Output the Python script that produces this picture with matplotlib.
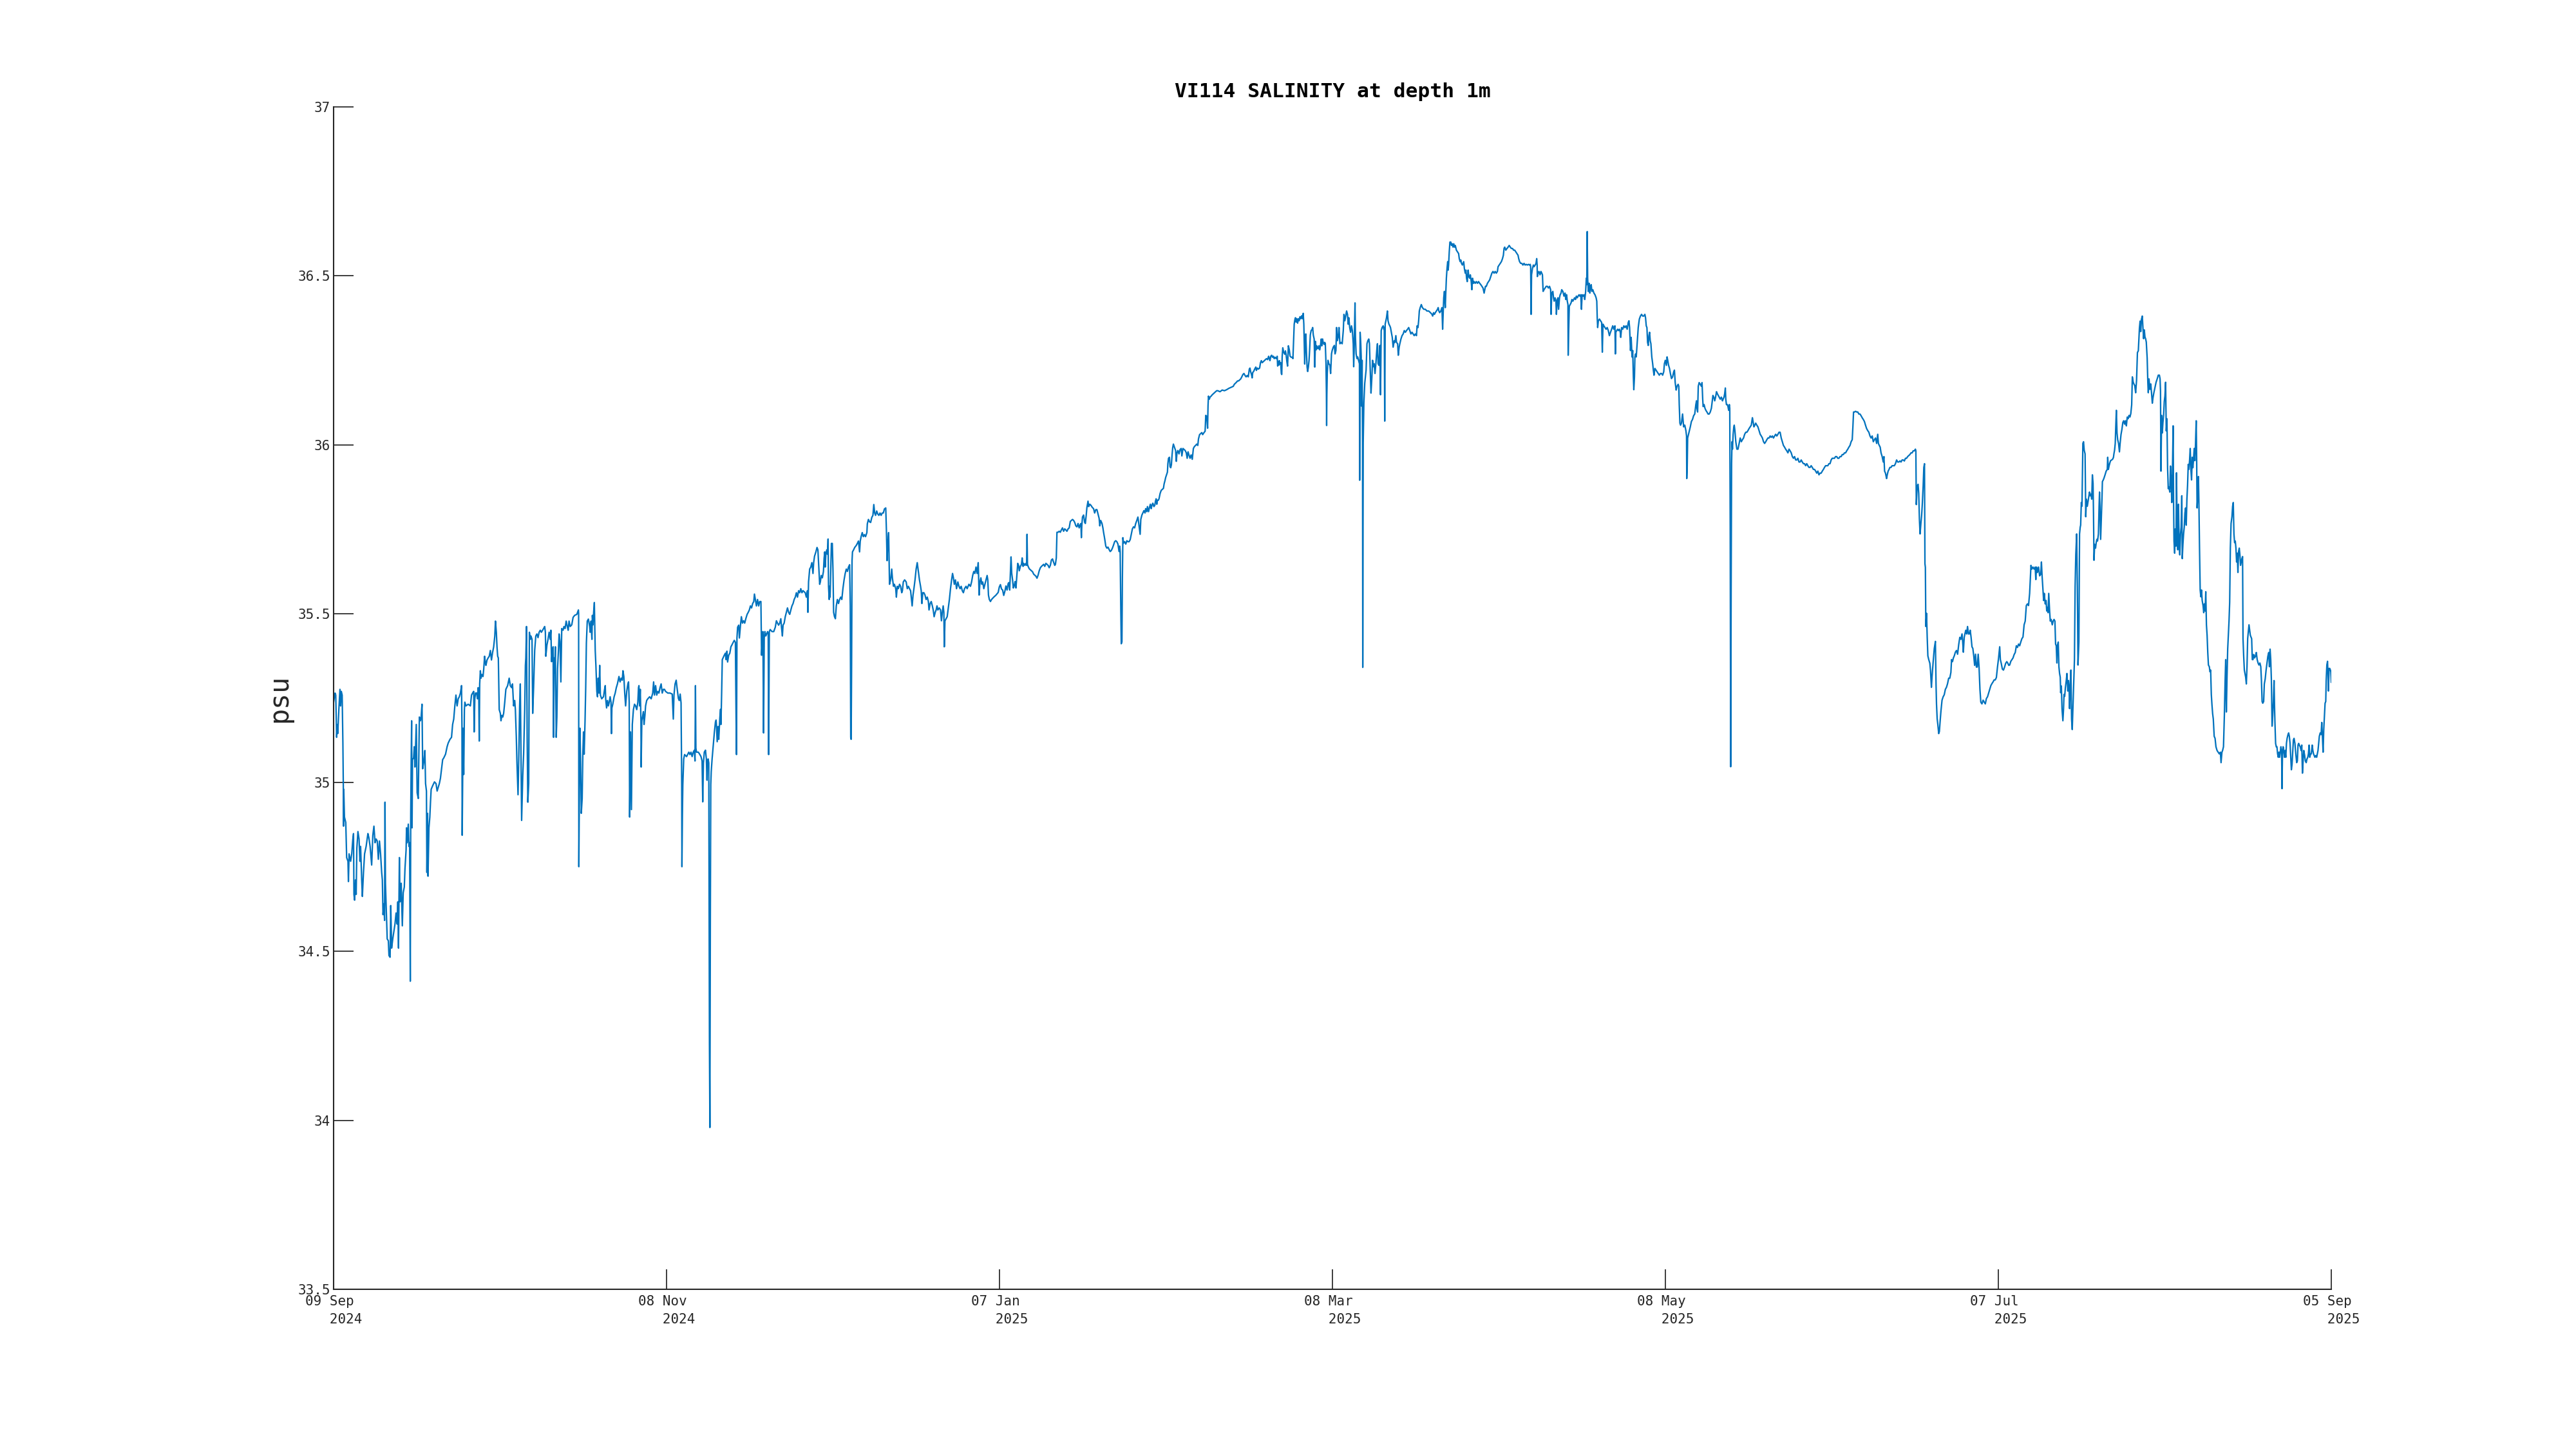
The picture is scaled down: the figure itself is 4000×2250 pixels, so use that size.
import numpy as np
import matplotlib
matplotlib.use('Agg')
import matplotlib.pyplot as plt

# salinity readings, x = days since 09 Sep 2024 00:00, y = psu
days_a = [0.0, 0.27, 0.39, 0.55, 0.67, 0.75, 0.95, 1.15, 1.27, 1.39,
          1.55, 1.68, 1.76, 1.80, 1.84, 1.96, 2.20, 2.36, 2.60, 2.68,
          2.80, 3.08, 3.28, 3.48, 3.60, 3.68, 3.80, 3.96, 4.08, 4.20,
          4.40, 4.60, 4.76, 4.88, 5.08, 5.20, 5.40, 5.60, 5.88, 6.20,
          6.36, 6.60, 6.88, 7.09, 7.29, 7.49, 7.69, 7.89, 8.09, 8.29,
          8.49, 8.69, 8.81, 8.93, 9.09, 9.21, 9.29, 9.37, 9.49, 9.69,
          9.89, 10.01, 10.21, 10.33, 10.49, 10.69, 10.89, 11.09, 11.29, 11.49,
          11.61, 11.73, 11.89, 12.01, 12.22, 12.42, 12.58, 12.78, 12.90, 13.10,
          13.18, 13.30, 13.50, 13.62, 13.74, 13.86, 13.94, 14.02, 14.10, 14.18,
          14.26, 14.46, 14.58, 14.70, 14.94, 15.10, 15.30, 15.50, 15.70, 15.82,
          15.98, 16.10, 16.30, 16.50, 16.62, 16.78, 16.86, 16.98, 17.06, 17.23,
          17.39, 17.51, 17.63, 17.91, 18.23, 18.51, 18.71, 18.91, 19.11, 19.31,
          19.51, 19.71, 19.91, 20.23, 20.51, 20.71, 21.03, 21.31, 21.51, 21.71,
          21.91, 22.11, 22.32, 22.52, 22.72, 22.92, 23.12, 23.20, 23.24, 23.40,
          23.52, 23.64, 23.72, 23.92, 24.32, 24.72, 24.92, 25.12, 25.32, 25.40,
          25.52, 25.64, 25.84, 26.00, 26.12, 26.24, 26.32, 26.40, 26.52, 26.64,
          26.80, 27.00, 27.13, 27.29, 27.41, 27.53, 27.73, 27.93, 28.13, 28.33,
          28.53, 28.73, 28.93, 29.13, 29.25, 29.41, 29.53, 29.65, 29.77, 29.93,
          30.13, 30.25, 30.41, 30.57, 30.73, 30.93, 31.13, 31.45, 31.73, 31.93,
          32.17, 32.33, 32.53, 32.73, 32.85, 33.01, 33.13, 33.33, 33.46, 33.62,
          33.74, 33.86, 33.98, 34.18, 34.34, 34.54, 34.66, 34.74, 34.86, 34.98,
          35.10, 35.26, 35.38, 35.54, 35.66, 35.86, 35.98, 36.14, 36.34, 36.54,
          36.74, 36.94, 37.14, 37.35, 37.55, 37.95, 38.15, 38.27, 38.35, 38.55,
          38.75, 38.95, 39.15, 39.27, 39.39, 39.55, 39.67, 39.75, 39.87, 39.95,
          40.07, 40.23, 40.35, 40.47, 40.63, 40.75, 40.91, 41.07, 41.23, 41.47,
          41.63, 41.83, 42.03, 42.23, 42.39, 42.55, 42.76, 43.04, 43.28, 43.56,
          43.96, 44.24, 44.28, 44.32, 44.44, 44.52, 44.64, 44.76, 44.92, 45.04,
          45.16, 45.28, 45.44, 45.56, 45.68, 45.84, 46.04, 46.28, 46.36, 46.52,
          46.68, 46.76, 46.88, 47.00, 47.12, 47.20, 47.28, 47.40, 47.57, 47.69,
          47.81, 47.97, 48.09, 48.21, 48.45, 48.77, 48.97, 49.09, 49.17, 49.33,
          49.49, 49.65, 49.81, 49.97, 50.13, 50.21, 50.29, 50.45, 50.69, 50.89,
          51.09, 51.29, 51.57, 51.77, 51.97, 52.17, 52.29, 52.45, 52.61, 52.77,
          52.97, 53.18, 53.30, 53.42, 53.50, 53.66, 53.82, 53.98, 54.18, 54.38,
          54.58, 54.78, 54.98, 55.10, 55.18, 55.30, 55.42, 55.54, 55.58, 55.70,
          55.82, 55.98, 56.10, 56.26, 56.38, 56.58, 56.78, 57.11, 57.39, 57.67,
          57.83, 57.99, 58.19, 58.39, 58.59, 58.79, 58.99, 59.19, 59.39, 59.59,
          59.79, 59.99, 60.39, 60.79, 61.19, 61.39, 61.51, 61.71, 61.91]
psu_a = [35.238, 35.265, 35.259, 35.134, 35.172, 35.145, 35.216, 35.276, 35.227, 35.270,
         35.259, 35.117, 34.986, 34.871, 34.980, 34.898, 34.882, 34.778, 34.767, 34.707,
         34.789, 34.767, 34.789, 34.833, 34.849, 34.669, 34.652, 34.712, 34.669, 34.805,
         34.855, 34.833, 34.767, 34.811, 34.712, 34.663, 34.734, 34.789, 34.811, 34.849,
         34.838, 34.811, 34.756, 34.844, 34.871, 34.822, 34.833, 34.827, 34.773, 34.827,
         34.789, 34.734, 34.712, 34.609, 34.641, 34.592, 34.942, 34.702, 34.641, 34.537,
         34.532, 34.488, 34.483, 34.636, 34.510, 34.537, 34.559, 34.581, 34.614, 34.581,
         34.647, 34.510, 34.778, 34.647, 34.702, 34.576, 34.674, 34.691, 34.745, 34.800,
         34.866, 34.822, 34.877, 34.811, 34.822, 34.412, 34.909, 35.062, 35.183, 34.866,
         35.068, 35.073, 35.106, 35.046, 35.172, 34.970, 34.953, 35.194, 35.183, 35.194,
         35.232, 35.041, 35.062, 35.095, 34.997, 34.975, 34.734, 34.909, 34.723, 34.866,
         34.898, 34.942, 34.980, 34.991, 35.002, 34.997, 34.975, 34.986, 34.997, 35.013,
         35.041, 35.068, 35.073, 35.084, 35.106, 35.117, 35.128, 35.134, 35.172, 35.188,
         35.227, 35.259, 35.227, 35.248, 35.254, 35.265, 35.287, 35.161, 34.844, 35.161,
         35.024, 35.216, 35.238, 35.227, 35.232, 35.227, 35.259, 35.265, 35.270, 35.150,
         35.248, 35.265, 35.265, 35.248, 35.281, 35.259, 35.123, 35.292, 35.331, 35.309,
         35.320, 35.314, 35.336, 35.374, 35.358, 35.347, 35.363, 35.369, 35.374, 35.391,
         35.363, 35.385, 35.402, 35.434, 35.478, 35.445, 35.402, 35.374, 35.369, 35.216,
         35.205, 35.183, 35.199, 35.194, 35.205, 35.238, 35.276, 35.287, 35.309, 35.287,
         35.281, 35.292, 35.227, 35.243, 35.216, 35.139, 35.062, 34.964, 35.068, 35.227,
         35.292, 35.084, 34.888, 35.019, 35.084, 35.216, 35.347, 35.369, 35.462, 35.128,
         34.942, 34.997, 35.445, 35.424, 35.434, 35.424, 35.205, 35.281, 35.391, 35.434,
         35.440, 35.429, 35.445, 35.451, 35.445, 35.456, 35.462, 35.445, 35.374, 35.407,
         35.424, 35.445, 35.424, 35.451, 35.358, 35.391, 35.402, 35.134, 35.369, 35.325,
         35.402, 35.134, 35.194, 35.336, 35.391, 35.440, 35.418, 35.298, 35.456, 35.451,
         35.462, 35.456, 35.478, 35.462, 35.451, 35.478, 35.462, 35.467, 35.489, 35.495,
         35.498, 35.511, 35.500, 34.751, 35.041, 35.161, 35.062, 34.909, 34.953, 35.084,
         35.150, 35.084, 35.183, 35.281, 35.413, 35.478, 35.484, 35.462, 35.445, 35.478,
         35.424, 35.495, 35.467, 35.506, 35.533, 35.456, 35.391, 35.347, 35.270, 35.254,
         35.309, 35.265, 35.347, 35.259, 35.248, 35.254, 35.276, 35.287, 35.248, 35.221,
         35.243, 35.227, 35.238, 35.254, 35.238, 35.145, 35.221, 35.232, 35.254, 35.265,
         35.281, 35.292, 35.314, 35.298, 35.309, 35.303, 35.331, 35.314, 35.265, 35.227,
         35.270, 35.292, 35.298, 35.238, 34.898, 35.150, 34.920, 35.172, 35.216, 35.232,
         35.227, 35.216, 35.238, 35.281, 35.287, 35.227, 35.276, 35.183, 35.046, 35.183,
         35.194, 35.210, 35.172, 35.199, 35.227, 35.243, 35.248, 35.254, 35.248, 35.265,
         35.298, 35.259, 35.287, 35.259, 35.270, 35.265, 35.281, 35.292, 35.265, 35.276,
         35.276, 35.270, 35.265, 35.265, 35.262, 35.188, 35.259, 35.292, 35.303]

days_b = [62.06, 62.31, 62.47, 62.63, 62.79, 62.91, 62.95, 63.03, 63.11, 63.27,
          63.43, 63.79, 64.19, 64.39, 64.59, 64.79, 64.99, 65.19, 65.31, 65.39,
          65.47, 65.59, 65.91, 66.19, 66.39, 66.59, 66.71, 66.83, 66.99, 67.20,
          67.36, 67.48, 67.56, 67.68, 67.80, 67.92, 68.00, 68.08, 68.16, 68.24,
          68.40, 68.60, 68.80, 69.00, 69.12, 69.20, 69.32, 69.48, 69.60, 69.80,
          69.92, 70.00, 70.12, 70.24, 70.40, 70.60, 70.80, 70.92, 71.08, 71.20,
          71.40, 71.60, 71.80, 72.00, 72.21, 72.41, 72.61, 72.73, 72.81, 72.89,
          73.01, 73.21, 73.33, 73.53, 73.69, 73.89, 74.09, 74.29, 74.49, 74.73,
          74.93, 75.13, 75.33, 75.53, 75.73, 75.93, 76.05, 76.21, 76.41, 76.61,
          76.81, 77.01, 77.22, 77.34, 77.46, 77.58, 77.70, 77.82, 77.94, 78.10,
          78.26, 78.42, 78.54, 78.62, 78.74, 78.90, 79.22, 79.54, 79.82, 80.02,
          80.22, 80.42, 80.62, 80.82, 80.94, 81.10, 81.22, 81.42, 81.62, 81.82,
          82.02, 82.22, 82.43, 82.63, 82.83, 83.03, 83.23, 83.43, 83.63, 83.83,
          84.03, 84.23, 84.43, 84.63, 84.83, 85.23, 85.43, 85.63, 85.71, 85.83,
          86.03, 86.23, 86.43, 86.63, 86.75, 86.91, 87.16, 87.36, 87.52, 87.64,
          87.76, 87.84, 87.96, 88.12, 88.32, 88.52, 88.64, 88.76, 88.84, 88.96,
          89.12, 89.24, 89.36, 89.44, 89.56, 89.64, 89.72, 89.84, 89.96, 90.12,
          90.24, 90.36, 90.52, 90.68, 90.84, 91.04, 91.24, 91.44, 91.64, 91.84,
          92.04, 92.25, 92.45, 92.65, 92.85, 93.05, 93.25, 93.37, 93.45, 93.53,
          93.61, 93.69, 93.77, 93.97, 94.17, 94.45, 94.65, 94.85, 95.05, 95.17,
          95.33, 95.53, 95.73, 95.93, 96.13, 96.37, 96.45, 96.65, 96.85, 97.05,
          97.26, 97.46, 97.62, 97.78, 97.94, 98.14, 98.34, 98.54, 98.74, 98.94,
          99.14, 99.34, 99.54, 99.78, 99.90, 100.02, 100.14, 100.30, 100.38, 100.46,
          100.66, 100.86, 100.98, 101.18, 101.34, 101.58, 101.70, 101.86, 102.06, 102.27,
          102.47, 102.67, 102.79, 102.95, 103.19, 103.47, 103.67, 103.87, 104.07, 104.27,
          104.39, 104.55, 104.71, 104.87, 105.07, 105.27, 105.47, 105.67, 105.87, 106.07,
          106.19, 106.31, 106.47, 106.67, 106.87, 107.07, 107.28, 107.48, 107.60, 107.80,
          108.00, 108.20, 108.36, 108.52, 108.72, 108.88, 109.04, 109.20, 109.44, 109.68,
          109.84, 110.00, 110.16, 110.28, 110.36, 110.48, 110.68, 110.88, 111.08, 111.28,
          111.48, 111.68, 111.85, 112.01, 112.17, 112.37, 112.57, 112.81, 113.01, 113.21,
          113.41, 113.61, 113.81, 114.01, 114.29, 114.49, 114.81, 115.09, 115.29, 115.49,
          115.69, 115.89, 116.09, 116.29, 116.49, 116.65, 116.81, 116.97, 117.14, 117.30,
          117.50, 117.70, 117.90, 118.10, 118.22, 118.34, 118.50, 118.70, 118.90, 119.30,
          119.70]
psu_b = [35.281, 35.249, 35.243, 35.262, 35.236, 34.994, 34.751, 34.904, 34.994, 35.070,
         35.083, 35.077, 35.090, 35.083, 35.090, 35.077, 35.090, 35.096, 35.064, 35.287,
         35.102, 35.090, 35.090, 35.083, 35.077, 35.064, 34.943, 35.058, 35.090, 35.096,
         35.070, 35.007, 35.064, 35.070, 35.058, 34.228, 33.979, 34.586, 34.994, 35.032,
         35.070, 35.109, 35.147, 35.179, 35.185, 35.166, 35.121, 35.166, 35.128, 35.192,
         35.217, 35.172, 35.262, 35.364, 35.370, 35.377, 35.383, 35.364, 35.389, 35.357,
         35.377, 35.383, 35.402, 35.408, 35.415, 35.421, 35.415, 35.198, 35.083, 35.428,
         35.460, 35.466, 35.428, 35.466, 35.491, 35.472, 35.479, 35.472, 35.485, 35.498,
         35.504, 35.511, 35.523, 35.517, 35.530, 35.536, 35.558, 35.542, 35.523, 35.542,
         35.523, 35.536, 35.536, 35.377, 35.415, 35.447, 35.147, 35.428, 35.447, 35.434,
         35.440, 35.447, 35.440, 35.083, 35.447, 35.453, 35.447, 35.447, 35.460, 35.479,
         35.472, 35.466, 35.472, 35.485, 35.460, 35.434, 35.466, 35.472, 35.491, 35.504,
         35.517, 35.504, 35.498, 35.511, 35.523, 35.530, 35.542, 35.549, 35.562, 35.549,
         35.568, 35.562, 35.574, 35.562, 35.568, 35.562, 35.549, 35.568, 35.504, 35.594,
         35.632, 35.638, 35.651, 35.619, 35.651, 35.670, 35.683, 35.696, 35.689, 35.651,
         35.613, 35.587, 35.594, 35.613, 35.606, 35.625, 35.664, 35.683, 35.638, 35.676,
         35.689, 35.676, 35.721, 35.581, 35.542, 35.581, 35.549, 35.632, 35.708, 35.708,
         35.632, 35.504, 35.491, 35.485, 35.523, 35.542, 35.530, 35.542, 35.549, 35.542,
         35.574, 35.600, 35.619, 35.632, 35.625, 35.638, 35.645, 35.523, 35.134, 35.128,
         35.351, 35.657, 35.683, 35.689, 35.696, 35.702, 35.708, 35.715, 35.683, 35.715,
         35.728, 35.740, 35.728, 35.734, 35.728, 35.740, 35.766, 35.779, 35.772, 35.770,
         35.785, 35.791, 35.823, 35.798, 35.791, 35.804, 35.795, 35.791, 35.798, 35.791,
         35.798, 35.798, 35.810, 35.813, 35.747, 35.657, 35.708, 35.740, 35.664, 35.587,
         35.600, 35.632, 35.606, 35.581, 35.587, 35.574, 35.549, 35.581, 35.574, 35.587,
         35.581, 35.562, 35.568, 35.594, 35.600, 35.594, 35.574, 35.581, 35.574, 35.568,
         35.549, 35.523, 35.555, 35.574, 35.600, 35.632, 35.651, 35.625, 35.600, 35.581,
         35.568, 35.530, 35.562, 35.562, 35.555, 35.542, 35.549, 35.536, 35.511, 35.530,
         35.536, 35.523, 35.511, 35.491, 35.504, 35.511, 35.523, 35.511, 35.517, 35.511,
         35.479, 35.504, 35.523, 35.504, 35.402, 35.479, 35.485, 35.491, 35.517, 35.542,
         35.574, 35.600, 35.619, 35.606, 35.587, 35.600, 35.574, 35.594, 35.581, 35.574,
         35.581, 35.568, 35.562, 35.574, 35.581, 35.574, 35.587, 35.581, 35.594, 35.613,
         35.625, 35.619, 35.638, 35.619, 35.651, 35.555, 35.594, 35.606, 35.587, 35.594,
         35.574, 35.587, 35.600, 35.613, 35.600, 35.555, 35.542, 35.536, 35.542, 35.549,
         35.555]

days_c = [120.10, 120.30, 120.50, 120.70, 120.90, 121.10, 121.30, 121.50, 121.70, 121.90,
          122.02, 122.18, 122.30, 122.42, 122.54, 122.71, 122.83, 122.99, 123.15, 123.31,
          123.51, 123.63, 123.79, 123.91, 124.11, 124.31, 124.43, 124.59, 124.71, 124.91,
          125.11, 125.23, 125.31, 125.39, 125.51, 125.71, 125.91, 126.11, 126.31, 126.51,
          126.71, 126.91, 127.11, 127.31, 127.51, 127.72, 127.92, 128.12, 128.32, 128.52,
          128.72, 128.92, 129.12, 129.32, 129.52, 129.72, 129.92, 130.12, 130.32, 130.44,
          130.60, 130.72, 130.92, 131.12, 131.32, 131.52, 131.72, 131.92, 132.12, 132.32,
          132.52, 132.73, 132.93, 133.13, 133.33, 133.53, 133.73, 133.93, 134.13, 134.33,
          134.53, 134.73, 134.93, 135.05, 135.13, 135.21, 135.33, 135.53, 135.73, 135.85,
          136.01, 136.13, 136.33, 136.45, 136.65, 136.85, 137.01, 137.13, 137.33, 137.53,
          137.74, 137.94, 138.14, 138.34, 138.46, 138.62, 138.86, 139.02, 139.14, 139.34,
          139.54, 139.74, 139.94, 140.14, 140.34, 140.54, 140.74, 140.94, 141.14, 141.34,
          141.54, 141.74, 141.94, 142.06, 142.14, 142.26, 142.34, 142.46, 142.54, 142.63,
          142.75, 142.95, 143.15, 143.35, 143.55, 143.75, 143.95, 144.15, 144.35, 144.55,
          144.75, 144.95, 145.15, 145.35, 145.55, 145.75, 145.87, 146.07, 146.23, 146.43,
          146.63, 146.75, 146.95, 147.07, 147.27, 147.43, 147.60, 147.76, 147.88, 148.04,
          148.24, 148.40, 148.52, 148.64, 148.76, 148.88, 149.04, 149.16, 149.36, 149.56,
          149.76, 149.96, 150.08, 150.24, 150.36, 150.56, 150.68, 150.76, 150.88, 151.04,
          151.16, 151.28, 151.40, 151.52, 151.64, 151.76, 151.96, 152.16, 152.28, 152.41,
          152.57, 152.77, 152.97, 153.17, 153.29, 153.49, 153.69, 153.89, 154.09, 154.25,
          154.41, 154.57, 154.77, 154.97, 155.17, 155.37, 155.57, 155.77, 155.97, 156.17,
          156.29, 156.49, 156.69, 156.89, 157.05, 157.29, 157.49, 157.61, 157.78, 157.94,
          158.02, 158.10, 158.26, 158.38, 158.58, 158.78, 158.98, 159.18, 159.38, 159.58,
          159.78, 160.18, 160.58, 160.98, 161.38, 161.78, 162.18, 162.58]
psu_c = [35.563, 35.579, 35.586, 35.573, 35.570, 35.554, 35.566, 35.582, 35.570, 35.589,
         35.592, 35.570, 35.620, 35.668, 35.620, 35.598, 35.576, 35.582, 35.595, 35.576,
         35.620, 35.649, 35.643, 35.627, 35.640, 35.646, 35.665, 35.640, 35.649, 35.643,
         35.649, 35.643, 35.735, 35.646, 35.640, 35.633, 35.630, 35.627, 35.624, 35.617,
         35.614, 35.611, 35.605, 35.614, 35.627, 35.636, 35.640, 35.643, 35.646, 35.640,
         35.649, 35.646, 35.643, 35.636, 35.643, 35.659, 35.662, 35.652, 35.643, 35.646,
         35.665, 35.741, 35.741, 35.744, 35.741, 35.748, 35.754, 35.744, 35.751, 35.748,
         35.744, 35.751, 35.754, 35.773, 35.776, 35.779, 35.776, 35.770, 35.760, 35.757,
         35.767, 35.754, 35.764, 35.767, 35.725, 35.760, 35.786, 35.792, 35.770, 35.767,
         35.792, 35.814, 35.833, 35.817, 35.824, 35.821, 35.817, 35.814, 35.811, 35.798,
         35.808, 35.808, 35.795, 35.782, 35.760, 35.776, 35.767, 35.754, 35.741, 35.722,
         35.700, 35.694, 35.697, 35.690, 35.684, 35.687, 35.694, 35.703, 35.713, 35.716,
         35.713, 35.706, 35.684, 35.700, 35.684, 35.506, 35.411, 35.417, 35.601, 35.725,
         35.709, 35.713, 35.706, 35.716, 35.713, 35.713, 35.719, 35.735, 35.751, 35.757,
         35.754, 35.767, 35.776, 35.786, 35.760, 35.735, 35.779, 35.792, 35.798, 35.805,
         35.798, 35.811, 35.802, 35.817, 35.802, 35.814, 35.824, 35.811, 35.821, 35.827,
         35.817, 35.821, 35.833, 35.840, 35.824, 35.836, 35.836, 35.840, 35.856, 35.865,
         35.868, 35.871, 35.884, 35.894, 35.903, 35.913, 35.919, 35.944, 35.960, 35.963,
         35.935, 35.932, 35.941, 35.970, 35.992, 36.002, 35.992, 35.983, 35.951, 35.976,
         35.983, 35.973, 35.986, 35.989, 35.967, 35.989, 35.986, 35.983, 35.976, 35.960,
         35.979, 35.970, 35.960, 35.970, 35.957, 35.989, 35.995, 35.998, 36.002, 35.998,
         36.017, 36.030, 36.033, 36.036, 36.030, 36.036, 36.040, 36.087, 36.084, 36.049,
         36.116, 36.144, 36.135, 36.141, 36.144, 36.148, 36.151, 36.154, 36.157, 36.160,
         36.160, 36.157, 36.162, 36.160, 36.163, 36.167, 36.170, 36.173]

days_d = [162.77, 162.96, 163.15, 163.35, 163.54, 163.74, 163.93, 164.12, 164.32, 164.51,
          164.71, 164.90, 165.09, 165.29, 165.48, 165.60, 165.71, 165.87, 165.99, 166.10,
          166.26, 166.45, 166.65, 166.76, 166.92, 167.11, 167.34, 167.50, 167.65, 167.81,
          168.00, 168.20, 168.39, 168.59, 168.78, 168.97, 169.09, 169.21, 169.36, 169.52,
          169.67, 169.83, 169.98, 170.14, 170.33, 170.52, 170.60, 170.72, 170.84, 170.91,
          171.03, 171.15, 171.26, 171.34, 171.42, 171.53, 171.69, 171.88, 172.00, 172.12,
          172.27, 172.39, 172.54, 172.70, 172.85, 173.05, 173.24, 173.36, 173.47, 173.59,
          173.71, 173.82, 173.94, 174.05, 174.21, 174.33, 174.48, 174.64, 174.79, 174.95,
          175.10, 175.22, 175.33, 175.41, 175.49, 175.57, 175.68, 175.80, 175.92, 176.03,
          176.15, 176.27, 176.38, 176.50, 176.65, 176.81, 176.93, 177.04, 177.20, 177.31,
          177.43, 177.55, 177.66, 177.78, 177.90, 178.05, 178.21, 178.36, 178.48, 178.59,
          178.71, 178.83, 178.98, 179.10, 179.21, 179.33, 179.41, 179.45, 179.49, 179.56]
psu_d = [36.179, 36.182, 36.185, 36.189, 36.189, 36.192, 36.195, 36.201, 36.208, 36.211,
         36.205, 36.201, 36.205, 36.201, 36.224, 36.227, 36.217, 36.208, 36.198, 36.214,
         36.217, 36.224, 36.230, 36.220, 36.227, 36.224, 36.227, 36.243, 36.249, 36.243,
         36.246, 36.249, 36.252, 36.255, 36.252, 36.262, 36.255, 36.249, 36.262, 36.265,
         36.259, 36.262, 36.255, 36.259, 36.255, 36.262, 36.233, 36.246, 36.236, 36.249,
         36.239, 36.243, 36.211, 36.208, 36.262, 36.287, 36.274, 36.268, 36.278, 36.268,
         36.246, 36.233, 36.293, 36.281, 36.262, 36.259, 36.259, 36.255, 36.306, 36.357,
         36.370, 36.376, 36.363, 36.373, 36.360, 36.373, 36.367, 36.379, 36.373, 36.382,
         36.373, 36.389, 36.357, 36.293, 36.239, 36.300, 36.328, 36.274, 36.230, 36.217,
         36.230, 36.249, 36.281, 36.325, 36.338, 36.341, 36.347, 36.325, 36.313, 36.230,
         36.306, 36.281, 36.293, 36.287, 36.284, 36.293, 36.281, 36.297, 36.313, 36.293,
         36.313, 36.303, 36.297, 36.303, 36.300, 36.243, 36.154, 36.057, 36.147, 36.211]

days_e = [179.69, 179.85, 180.05, 180.17, 180.33, 180.45, 180.65, 180.85, 180.97, 181.13,
          181.25, 181.37, 181.53, 181.69, 181.85, 182.06, 182.26, 182.46, 182.58, 182.74,
          182.90, 183.06, 183.22, 183.34, 183.46, 183.62, 183.78, 183.94, 184.10, 184.26,
          184.34, 184.42, 184.50, 184.58, 184.66, 184.78, 184.94, 185.06, 185.22, 185.38,
          185.42, 185.50, 185.62, 185.70, 185.78, 185.86, 185.94, 185.98, 186.06, 186.18,
          186.34, 186.46, 186.58, 186.74, 186.90, 187.07, 187.19, 187.31, 187.47, 187.63,
          187.75, 187.87, 188.03, 188.19, 188.35, 188.51, 188.63, 188.75, 188.91, 189.07,
          189.19, 189.31, 189.47, 189.67, 189.79, 189.87, 189.95, 190.03, 190.15, 190.27,
          190.43, 190.55, 190.71, 190.87, 190.99, 191.15, 191.31, 191.47, 191.67, 191.79,
          191.96, 192.08, 192.28, 192.40, 192.56, 192.68, 192.88, 193.08, 193.28, 193.48,
          193.68, 193.88, 194.08, 194.28, 194.48, 194.68, 194.88, 195.08, 195.28, 195.48,
          195.68, 195.80, 195.96, 196.08, 196.20, 196.36, 196.56, 196.76, 197.01, 197.29,
          197.57, 197.89, 198.21, 198.49, 198.61, 198.77, 198.93, 199.09, 199.29, 199.49,
          199.61, 199.73, 199.89, 200.09, 200.29, 200.41, 200.53, 200.61, 200.73, 200.89,
          200.97, 201.09, 201.21, 201.33, 201.41, 201.49, 201.61, 201.73, 201.89, 202.01,
          202.14, 202.30, 202.42, 202.58, 202.70, 202.90, 203.10, 203.30, 203.42, 203.58,
          203.70, 203.82, 203.98, 204.22, 204.34, 204.50, 204.62, 204.74, 204.86, 205.02,
          205.14, 205.30, 205.42, 205.58, 205.70, 205.82, 205.98, 206.10, 206.30, 206.50,
          206.70, 206.90, 207.11, 207.31, 207.51, 207.71, 207.91, 208.03, 208.15, 208.31,
          208.51, 208.71, 208.91, 209.11, 209.31, 209.51, 209.71, 209.91, 210.11, 210.31,
          210.43, 210.63, 210.83, 211.03, 211.23, 211.39, 211.51, 211.63, 211.83, 212.04,
          212.24, 212.44, 212.64, 212.84, 213.04, 213.24, 213.44, 213.64, 213.84, 214.04,
          214.16, 214.32, 214.52, 214.72, 214.92, 215.12, 215.32, 215.52, 215.72, 215.92,
          216.12, 216.24, 216.32, 216.40, 216.48, 216.65, 216.81, 216.93, 217.13, 217.29,
          217.41, 217.49, 217.53, 217.65, 217.81, 218.01, 218.17, 218.33, 218.45, 218.57,
          218.73, 218.93, 219.13, 219.33, 219.53, 219.73, 219.93, 220.01, 220.13, 220.33,
          220.45, 220.57, 220.73, 220.89, 220.97, 221.13, 221.25, 221.37, 221.53, 221.65,
          221.81, 221.93, 222.14, 222.34, 222.54, 222.66, 222.82, 222.94, 223.06, 223.10,
          223.18, 223.30, 223.46, 223.62, 223.78, 223.94, 224.10, 224.26, 224.42, 224.58,
          224.74, 224.90, 225.06, 225.22, 225.38, 225.50, 225.62, 225.78, 225.94, 226.10,
          226.26, 226.38, 226.46, 226.54, 226.62, 226.74, 226.90, 227.02, 227.14, 227.26,
          227.38, 227.55, 227.75, 227.95, 228.15, 228.27, 228.35, 228.43, 228.55, 228.75,
          228.95, 229.15, 229.27, 229.39, 229.55, 229.75, 229.95, 230.15, 230.35, 230.55,
          230.75, 230.95, 231.15, 231.35, 231.55, 231.63, 231.71, 231.87, 232.03, 232.19,
          232.36, 232.52, 232.60, 232.76, 232.96, 233.16, 233.36, 233.56, 233.76, 233.96,
          234.08, 234.20, 234.36, 234.48, 234.64, 234.76, 234.88, 234.96, 235.08, 235.16,
          235.28, 235.40, 235.56, 235.76, 235.96, 236.16, 236.36, 236.56, 236.76, 236.96,
          237.08, 237.21, 237.33, 237.45, 237.57, 237.69, 237.81, 237.93, 238.05, 238.21,
          238.37, 238.49, 238.61, 238.77, 238.97, 239.17, 239.37, 239.57, 239.77, 239.97,
          240.17, 240.37, 240.49, 240.65, 240.85, 240.97, 241.09, 241.25, 241.41, 241.57,
          241.77, 241.97, 242.17, 242.30]
psu_e = [36.250, 36.240, 36.235, 36.211, 36.269, 36.279, 36.289, 36.294, 36.269, 36.279,
         36.347, 36.308, 36.318, 36.347, 36.299, 36.303, 36.299, 36.338, 36.386, 36.367,
         36.381, 36.396, 36.386, 36.357, 36.376, 36.347, 36.333, 36.352, 36.338, 36.299,
         36.231, 36.279, 36.347, 36.420, 36.318, 36.269, 36.255, 36.260, 36.250, 36.240,
         35.895, 36.333, 36.299, 36.260, 36.114, 36.250, 36.007, 35.341, 36.007, 36.124,
         36.182, 36.201, 36.221, 36.299, 36.308, 36.313, 36.299, 36.231, 36.153, 36.201,
         36.250, 36.231, 36.240, 36.211, 36.240, 36.279, 36.299, 36.240, 36.235, 36.294,
         36.148, 36.338, 36.347, 36.352, 36.342, 36.347, 36.070, 36.357, 36.367, 36.376,
         36.396, 36.367, 36.357, 36.352, 36.347, 36.333, 36.318, 36.289, 36.308, 36.303,
         36.323, 36.303, 36.299, 36.265, 36.289, 36.299, 36.313, 36.323, 36.328, 36.338,
         36.333, 36.338, 36.342, 36.347, 36.338, 36.328, 36.333, 36.328, 36.323, 36.328,
         36.323, 36.352, 36.347, 36.367, 36.396, 36.406, 36.415, 36.406, 36.401, 36.401,
         36.396, 36.396, 36.391, 36.386, 36.381, 36.391, 36.386, 36.391, 36.396, 36.401,
         36.406, 36.396, 36.391, 36.396, 36.406, 36.342, 36.396, 36.435, 36.454, 36.406,
         36.444, 36.493, 36.522, 36.542, 36.517, 36.532, 36.571, 36.600, 36.600, 36.590,
         36.595, 36.585, 36.595, 36.585, 36.590, 36.576, 36.571, 36.566, 36.551, 36.542,
         36.547, 36.537, 36.532, 36.542, 36.522, 36.508, 36.517, 36.493, 36.483, 36.517,
         36.498, 36.493, 36.503, 36.483, 36.459, 36.493, 36.478, 36.483, 36.478, 36.483,
         36.478, 36.483, 36.478, 36.474, 36.469, 36.464, 36.449, 36.459, 36.469, 36.469,
         36.478, 36.483, 36.488, 36.498, 36.508, 36.513, 36.508, 36.513, 36.508, 36.513,
         36.527, 36.532, 36.537, 36.542, 36.551, 36.561, 36.581, 36.585, 36.576, 36.581,
         36.585, 36.590, 36.585, 36.581, 36.581, 36.576, 36.576, 36.571, 36.566, 36.561,
         36.551, 36.542, 36.537, 36.537, 36.532, 36.537, 36.532, 36.534, 36.532, 36.534,
         36.532, 36.534, 36.527, 36.386, 36.503, 36.522, 36.532, 36.527, 36.532, 36.537,
         36.551, 36.532, 36.498, 36.508, 36.513, 36.503, 36.513, 36.508, 36.503, 36.454,
         36.459, 36.464, 36.469, 36.469, 36.464, 36.469, 36.459, 36.386, 36.449, 36.454,
         36.435, 36.425, 36.435, 36.425, 36.386, 36.430, 36.435, 36.401, 36.435, 36.444,
         36.449, 36.459, 36.454, 36.440, 36.449, 36.430, 36.444, 36.425, 36.415, 36.265,
         36.328, 36.410, 36.415, 36.420, 36.430, 36.425, 36.430, 36.435, 36.430, 36.440,
         36.435, 36.440, 36.444, 36.440, 36.444, 36.401, 36.444, 36.440, 36.444, 36.430,
         36.454, 36.493, 36.474, 36.631, 36.493, 36.454, 36.478, 36.449, 36.469, 36.474,
         36.454, 36.459, 36.449, 36.444, 36.435, 36.425, 36.376, 36.347, 36.367, 36.372,
         36.367, 36.362, 36.274, 36.357, 36.352, 36.347, 36.342, 36.347, 36.338, 36.323,
         36.333, 36.342, 36.352, 36.342, 36.352, 36.269, 36.333, 36.338, 36.342, 36.338,
         36.342, 36.333, 36.318, 36.347, 36.342, 36.352, 36.347, 36.352, 36.342, 36.362,
         36.367, 36.347, 36.279, 36.318, 36.260, 36.279, 36.201, 36.163, 36.201, 36.260,
         36.269, 36.260, 36.299, 36.347, 36.372, 36.381, 36.386, 36.381, 36.381, 36.386,
         36.376, 36.352, 36.347, 36.303, 36.294, 36.323, 36.333, 36.308, 36.299, 36.260,
         36.240, 36.221, 36.206, 36.226, 36.221, 36.216, 36.211, 36.206, 36.211, 36.211,
         36.206, 36.216, 36.240, 36.250, 36.235, 36.260, 36.250, 36.235, 36.226, 36.211,
         36.196, 36.201, 36.216, 36.221]

days_f = [242.44, 242.61, 242.77, 242.97, 243.09, 243.17, 243.29, 243.41, 243.57, 243.77,
          243.89, 243.97, 244.17, 244.37, 244.49, 244.53, 244.61, 244.69, 244.85, 245.01,
          245.17, 245.37, 245.57, 245.77, 245.97, 246.17, 246.29, 246.37, 246.49, 246.61,
          246.77, 246.97, 247.17, 247.29, 247.41, 247.49, 247.66, 247.82, 247.98, 248.18,
          248.38, 248.58, 248.78, 248.98, 249.10, 249.26, 249.42, 249.58, 249.74, 249.90,
          250.06, 250.22, 250.38, 250.58, 250.78, 250.98, 251.10, 251.26, 251.38, 251.50,
          251.58, 251.70, 251.86, 251.98, 252.10, 252.22, 252.30, 252.38, 252.47, 252.55,
          252.63, 252.71, 252.79, 252.91, 253.03, 253.11, 253.23, 253.39, 253.59, 253.79,
          253.99, 254.19, 254.39, 254.59, 254.79, 254.99, 255.19, 255.39, 255.59, 255.79,
          255.99, 256.19, 256.39, 256.51, 256.67, 256.83, 256.99, 257.19, 257.39, 257.60,
          257.80, 258.00, 258.20, 258.40, 258.60, 258.80, 259.00, 259.20, 259.40, 259.60,
          259.80, 260.00, 260.20, 260.40, 260.60, 260.80, 261.00, 261.20, 261.40, 261.60,
          261.80, 262.00, 262.20, 262.40, 262.61, 262.81, 263.01, 263.21, 263.41, 263.61,
          263.81, 264.01, 264.21, 264.41, 264.61, 264.81, 265.01, 265.21, 265.41, 265.61,
          265.81, 266.01, 266.21, 266.41, 266.61, 266.81, 267.01, 267.21, 267.42, 267.62,
          267.82, 268.02, 268.22, 268.42, 268.62, 268.82, 269.02, 269.22, 269.42, 269.62,
          269.82, 270.02, 270.22, 270.42, 270.62, 270.82, 271.02, 271.22, 271.42, 271.62,
          271.82, 272.02, 272.22, 272.43, 272.63, 272.83, 273.03, 273.23, 273.43, 273.63,
          273.83, 274.03, 274.23, 274.43, 274.55, 274.67, 274.83, 275.03, 275.23, 275.43,
          275.63, 275.83, 276.03, 276.23, 276.43, 276.63, 276.83, 277.03, 277.23, 277.44,
          277.64, 277.84, 278.04, 278.24, 278.44, 278.64, 278.84, 279.04, 279.16, 279.32,
          279.48, 279.64, 279.84, 280.04, 280.16, 280.28, 280.44, 280.64, 280.76, 280.92,
          281.08, 281.24, 281.44, 281.64, 281.84, 282.04, 282.24, 282.45, 282.65, 282.85,
          283.05, 283.25, 283.45, 283.65, 283.85, 284.05, 284.25, 284.45, 284.65, 284.85,
          285.05, 285.25, 285.45, 285.65, 285.85, 285.93, 286.01, 286.17, 286.33, 286.45,
          286.57, 286.69, 286.85, 286.97, 287.09, 287.25, 287.37, 287.49, 287.57, 287.65,
          287.73, 287.86, 287.98, 288.10, 288.26, 288.46, 288.58, 288.74, 288.86, 289.06,
          289.26, 289.46, 289.58, 289.66, 289.78, 289.90, 290.06, 290.18, 290.30, 290.46,
          290.66, 290.86, 291.06, 291.26, 291.46, 291.66, 291.86, 292.06, 292.26, 292.38,
          292.55, 292.71, 292.87, 293.07, 293.27, 293.47, 293.67, 293.87, 294.07, 294.27,
          294.39, 294.51, 294.67, 294.79, 294.95, 295.11, 295.27, 295.43, 295.59, 295.75,
          295.91, 296.07, 296.23, 296.39, 296.55, 296.71, 296.87, 297.03, 297.19, 297.35,
          297.51, 297.67, 297.87, 298.08, 298.28, 298.48, 298.68, 298.88, 299.08, 299.28,
          299.48, 299.68, 299.88, 300.08, 300.28, 300.48, 300.68, 300.88, 301.08, 301.20,
          301.36, 301.56, 301.76, 301.96, 302.16, 302.36, 302.56, 302.72]
psu_f = [36.184, 36.162, 36.173, 36.179, 36.173, 36.119, 36.064, 36.058, 36.064, 36.091,
         36.069, 36.053, 36.058, 36.042, 36.026, 35.900, 35.933, 36.020, 36.031, 36.042,
         36.053, 36.069, 36.075, 36.086, 36.091, 36.119, 36.130, 36.108, 36.097, 36.173,
         36.184, 36.179, 36.173, 36.184, 36.135, 36.113, 36.119, 36.108, 36.102, 36.097,
         36.091, 36.091, 36.097, 36.108, 36.124, 36.146, 36.141, 36.130, 36.141, 36.157,
         36.151, 36.146, 36.141, 36.135, 36.141, 36.130, 36.135, 36.141, 36.151, 36.168,
         36.135, 36.119, 36.119, 36.113, 36.102, 36.119, 36.108, 35.758, 35.047, 35.572,
         35.944, 36.009, 35.987, 36.031, 36.053, 36.058, 36.042, 36.009, 35.987, 35.987,
         36.004, 36.020, 36.009, 36.015, 36.020, 36.031, 36.037, 36.037, 36.042, 36.048,
         36.053, 36.058, 36.080, 36.069, 36.053, 36.058, 36.064, 36.058, 36.053, 36.042,
         36.031, 36.026, 36.020, 36.009, 36.004, 36.009, 36.015, 36.020, 36.020, 36.026,
         36.022, 36.026, 36.020, 36.026, 36.031, 36.026, 36.031, 36.037, 36.037, 36.020,
         36.009, 35.998, 35.993, 35.987, 35.982, 35.976, 35.987, 35.982, 35.976, 35.965,
         35.960, 35.965, 35.955, 35.955, 35.960, 35.949, 35.949, 35.955, 35.949, 35.944,
         35.944, 35.938, 35.944, 35.938, 35.933, 35.933, 35.938, 35.933, 35.927, 35.927,
         35.922, 35.916, 35.922, 35.911, 35.916, 35.916, 35.922, 35.927, 35.933, 35.938,
         35.938, 35.938, 35.944, 35.944, 35.955, 35.960, 35.960, 35.960, 35.965, 35.965,
         35.960, 35.960, 35.965, 35.965, 35.971, 35.971, 35.976, 35.976, 35.982, 35.987,
         35.993, 35.998, 36.009, 36.015, 36.053, 36.097, 36.097, 36.099, 36.097, 36.097,
         36.091, 36.091, 36.086, 36.080, 36.075, 36.069, 36.058, 36.048, 36.042, 36.037,
         36.026, 36.020, 36.026, 36.009, 36.015, 36.020, 36.004, 36.031, 36.004, 35.998,
         35.993, 35.976, 35.965, 35.949, 35.965, 35.922, 35.916, 35.900, 35.911, 35.922,
         35.927, 35.933, 35.933, 35.938, 35.938, 35.938, 35.944, 35.955, 35.949, 35.949,
         35.952, 35.949, 35.955, 35.955, 35.952, 35.960, 35.960, 35.965, 35.968, 35.971,
         35.976, 35.976, 35.982, 35.982, 35.987, 35.982, 35.823, 35.878, 35.883, 35.856,
         35.780, 35.736, 35.769, 35.790, 35.823, 35.878, 35.933, 35.944, 35.648, 35.637,
         35.462, 35.501, 35.430, 35.375, 35.364, 35.353, 35.331, 35.282, 35.315, 35.358,
         35.397, 35.418, 35.287, 35.233, 35.189, 35.172, 35.145, 35.151, 35.178, 35.211,
         35.244, 35.254, 35.260, 35.276, 35.282, 35.293, 35.309, 35.309, 35.326, 35.364,
         35.358, 35.369, 35.375, 35.386, 35.391, 35.380, 35.408, 35.430, 35.424, 35.440,
         35.418, 35.386, 35.430, 35.440, 35.451, 35.440, 35.462, 35.440, 35.440, 35.451,
         35.430, 35.402, 35.397, 35.375, 35.347, 35.380, 35.342, 35.342, 35.380, 35.342,
         35.276, 35.238, 35.233, 35.244, 35.238, 35.233, 35.249, 35.254, 35.265, 35.276,
         35.287, 35.293, 35.298, 35.304, 35.304, 35.311, 35.342, 35.369, 35.402, 35.364,
         35.353, 35.336, 35.333, 35.342, 35.353, 35.358, 35.353, 35.347]

days_g = [302.88, 303.09, 303.29, 303.49, 303.69, 303.89, 304.09, 304.29, 304.49, 304.69,
          304.89, 305.09, 305.29, 305.49, 305.69, 305.89, 306.09, 306.29, 306.49, 306.61,
          306.73, 306.89, 307.09, 307.29, 307.49, 307.61, 307.73, 307.89, 308.10, 308.30,
          308.50, 308.62, 308.74, 308.90, 309.02, 309.14, 309.30, 309.46, 309.58, 309.70,
          309.82, 309.94, 310.10, 310.22, 310.38, 310.58, 310.74, 310.90, 311.06, 311.18,
          311.30, 311.42, 311.50, 311.66, 311.78, 311.90, 312.02, 312.10, 312.22, 312.34,
          312.50, 312.62, 312.70, 312.82, 312.95, 313.11, 313.23, 313.39, 313.51, 313.63,
          313.71, 313.83, 313.95, 314.07, 314.19, 314.31, 314.43, 314.59, 314.71, 314.83,
          314.99, 315.11, 315.23, 315.39, 315.51, 315.63, 315.71, 315.83, 315.95, 316.11,
          316.23, 316.35, 316.51, 316.63, 316.75, 316.91, 317.11, 317.31, 317.43, 317.59,
          317.71, 317.83, 317.95, 318.03, 318.12, 318.24, 318.40, 318.52, 318.64, 318.76,
          318.92, 319.04, 319.12, 319.20, 319.32, 319.44, 319.56, 319.64, 319.80, 319.92,
          320.12, 320.32, 320.52, 320.60, 320.72, 320.84, 321.00, 321.12, 321.32, 321.52,
          321.64, 321.72, 321.84, 321.96, 322.04, 322.16, 322.28, 322.40, 322.56, 322.72,
          322.84, 323.00, 323.17, 323.33, 323.49, 323.65, 323.81, 323.97, 324.13, 324.29,
          324.45, 324.61, 324.77, 324.93, 325.05, 325.21, 325.33, 325.49, 325.65, 325.81,
          325.97, 326.13, 326.33, 326.45, 326.57, 326.69, 326.85, 326.97, 327.09, 327.21,
          327.33, 327.45, 327.57, 327.73, 327.85, 327.93, 328.06, 328.22, 328.38, 328.54,
          328.66, 328.78, 328.94, 329.14, 329.34, 329.54, 329.74, 329.94, 330.06, 330.14,
          330.22, 330.34, 330.46, 330.58, 330.70, 330.82, 330.94, 331.06, 331.18, 331.30,
          331.42, 331.54, 331.66, 331.82, 331.94, 332.06, 332.18, 332.30, 332.42, 332.50,
          332.58, 332.70, 332.82, 332.94, 333.03, 333.15, 333.27, 333.39, 333.51, 333.63,
          333.75, 333.87, 333.99, 334.07, 334.19, 334.31, 334.43, 334.55, 334.67, 334.79,
          334.91, 335.03, 335.15, 335.27, 335.39, 335.51, 335.63, 335.75, 335.87, 335.99,
          336.11, 336.23, 336.35, 336.47, 336.59, 336.67, 336.75, 336.87, 336.99, 337.07,
          337.19, 337.31, 337.43, 337.55, 337.67, 337.83, 337.95, 338.07, 338.20, 338.32,
          338.44, 338.56, 338.68, 338.80, 338.96, 339.08, 339.20, 339.32, 339.44, 339.56,
          339.68, 339.84, 340.00, 340.16, 340.36, 340.56, 340.76, 340.96, 341.08, 341.24,
          341.36, 341.52, 341.68, 341.80, 341.92, 342.04, 342.16, 342.28, 342.40, 342.52,
          342.64, 342.76, 342.89, 343.05, 343.17, 343.29, 343.41, 343.53, 343.65, 343.77,
          343.89, 344.01, 344.13, 344.25, 344.37, 344.49, 344.61, 344.73, 344.85, 344.97,
          345.05, 345.17, 345.29, 345.41, 345.53, 345.65, 345.77, 345.89, 346.01, 346.13,
          346.25, 346.37, 346.49, 346.61, 346.73, 346.85, 346.97, 347.13, 347.29, 347.45,
          347.61, 347.77, 347.93, 348.10, 348.26, 348.38, 348.50, 348.62, 348.78, 348.90,
          349.06, 349.22, 349.38, 349.54, 349.70, 349.82, 349.94, 350.06, 350.18, 350.30,
          350.42, 350.54, 350.66, 350.74, 350.82, 350.94, 351.06, 351.18, 351.30, 351.42,
          351.54, 351.66, 351.78, 351.90, 352.02, 352.10, 352.18, 352.30, 352.42, 352.54,
          352.66, 352.78, 352.90, 353.02, 353.18, 353.30, 353.42, 353.55, 353.67, 353.79,
          353.91, 354.03, 354.15, 354.27, 354.43, 354.59, 354.75, 354.87, 354.99, 355.11,
          355.23, 355.39, 355.55, 355.67, 355.79, 355.91, 356.03, 356.19, 356.31, 356.47,
          356.59, 356.75, 356.87, 356.99, 357.11, 357.27, 357.39, 357.55, 357.67, 357.79,
          357.91, 358.04, 358.20, 358.36, 358.48, 358.60, 358.72, 358.84, 359.00, 359.16,
          359.28, 359.40, 359.52, 359.64, 359.76, 359.88, 360.00, 360.08, 360.20, 360.32,
          360.40, 360.48, 360.60, 360.72, 360.84, 360.92, 360.97, 361.00]
psu_g = [35.348, 35.359, 35.364, 35.369, 35.379, 35.385, 35.405, 35.400, 35.410, 35.405,
         35.416, 35.426, 35.431, 35.467, 35.478, 35.524, 35.529, 35.524, 35.560, 35.601,
         35.643, 35.632, 35.638, 35.632, 35.638, 35.601, 35.638, 35.622, 35.638, 35.612,
         35.617, 35.653, 35.612, 35.570, 35.539, 35.560, 35.529, 35.539, 35.508, 35.519,
         35.503, 35.560, 35.508, 35.478, 35.483, 35.467, 35.478, 35.483, 35.478, 35.410,
         35.405, 35.354, 35.405, 35.416, 35.343, 35.323, 35.312, 35.266, 35.286, 35.219,
         35.183, 35.219, 35.261, 35.255, 35.281, 35.302, 35.323, 35.271, 35.302, 35.271,
         35.219, 35.292, 35.333, 35.188, 35.157, 35.219, 35.281, 35.364, 35.581, 35.674,
         35.736, 35.581, 35.348, 35.416, 35.736, 35.756, 35.762, 35.829, 35.818, 36.004,
         36.009, 35.984, 35.973, 35.787, 35.839, 35.818, 35.839, 35.860, 35.849, 35.854,
         35.839, 35.911, 35.886, 35.798, 35.658, 35.705, 35.694, 35.710, 35.720, 35.715,
         35.736, 35.818, 35.860, 35.818, 35.720, 35.777, 35.839, 35.891, 35.896, 35.901,
         35.911, 35.922, 35.927, 35.963, 35.927, 35.937, 35.947, 35.953, 35.955, 35.958,
         35.963, 35.973, 35.984, 36.004, 36.046, 36.102, 36.035, 36.015, 36.004, 35.979,
         36.004, 36.030, 36.046, 36.066, 36.071, 36.061, 36.071, 36.056, 36.082, 36.077,
         36.087, 36.082, 36.092, 36.118, 36.201, 36.185, 36.180, 36.175, 36.154, 36.190,
         36.273, 36.278, 36.345, 36.366, 36.335, 36.371, 36.381, 36.345, 36.314, 36.340,
         36.319, 36.314, 36.304, 36.257, 36.185, 36.154, 36.195, 36.164, 36.180, 36.149,
         36.123, 36.139, 36.154, 36.170, 36.185, 36.195, 36.206, 36.206, 36.195, 36.159,
         35.922, 36.087, 36.035, 36.066, 36.087, 36.128, 36.144, 36.185, 36.041, 36.077,
         35.932, 35.870, 35.875, 35.860, 35.937, 35.896, 35.829, 35.922, 36.056, 35.839,
         35.715, 35.679, 35.751, 35.700, 35.917, 35.736, 35.689, 35.824, 35.705, 35.674,
         35.736, 35.756, 35.849, 35.663, 35.705, 35.736, 35.756, 35.798, 35.813, 35.762,
         35.839, 35.880, 35.942, 35.927, 35.953, 35.989, 35.927, 35.896, 35.963, 35.932,
         35.958, 35.989, 35.953, 36.004, 36.071, 35.963, 35.813, 35.849, 35.906, 35.839,
         35.694, 35.570, 35.550, 35.570, 35.539, 35.524, 35.503, 35.529, 35.508, 35.565,
         35.467, 35.436, 35.385, 35.348, 35.343, 35.328, 35.333, 35.261, 35.230, 35.204,
         35.188, 35.137, 35.131, 35.106, 35.095, 35.090, 35.085, 35.090, 35.059, 35.090,
         35.095, 35.106, 35.199, 35.292, 35.364, 35.209, 35.312, 35.395, 35.436, 35.478,
         35.534, 35.694, 35.767, 35.787, 35.818, 35.829, 35.736, 35.710, 35.715, 35.694,
         35.653, 35.679, 35.622, 35.684, 35.694, 35.674, 35.643, 35.653, 35.663, 35.669,
         35.426, 35.374, 35.333, 35.323, 35.312, 35.292, 35.343, 35.426, 35.447, 35.467,
         35.452, 35.436, 35.431, 35.426, 35.364, 35.364, 35.379, 35.369, 35.374, 35.385,
         35.364, 35.354, 35.348, 35.354, 35.343, 35.302, 35.240, 35.235, 35.240, 35.292,
         35.307, 35.333, 35.354, 35.374, 35.385, 35.343, 35.395, 35.364, 35.302, 35.167,
         35.198, 35.240, 35.302, 35.230, 35.178, 35.116, 35.106, 35.106, 35.085, 35.075,
         35.090, 35.075, 35.090, 35.106, 35.095, 34.982, 35.085, 35.106, 35.095, 35.075,
         35.095, 35.075, 35.116, 35.131, 35.142, 35.147, 35.137, 35.116, 35.075, 35.038,
         35.054, 35.090, 35.126, 35.131, 35.116, 35.085, 35.059, 35.064, 35.111, 35.116,
         35.111, 35.106, 35.095, 35.111, 35.028, 35.064, 35.095, 35.080, 35.064, 35.059,
         35.069, 35.075, 35.085, 35.111, 35.075, 35.085, 35.085, 35.111, 35.095, 35.085,
         35.080, 35.075, 35.080, 35.075, 35.085, 35.095, 35.116, 35.137, 35.147, 35.142,
         35.178, 35.137, 35.090, 35.157, 35.198, 35.235, 35.240, 35.302, 35.348, 35.359,
         35.323, 35.271, 35.338, 35.338, 35.333, 35.328, 35.312, 35.297]

start_date = np.datetime64('2024-09-09T00:00:00')
span_days = 361
tick_labels = ['09 Sep\n   2024', '08 Nov\n   2024', '07 Jan\n   2025',
               '08 Mar\n   2025', '08 May\n   2025', '07 Jul\n   2025',
               '05 Sep\n   2025']
y_ticks = [33.5, 34, 34.5, 35, 35.5, 36, 36.5, 37]
y_tick_labels = ['33.5', '34', '34.5', '35', '35.5', '36', '36.5', '37']


def to_time(d):
    secs = np.round(np.asarray(d, dtype=float) * 86400).astype('int64')
    return start_date + secs.astype('timedelta64[s]')


days = np.concatenate([days_a, days_b, days_c, days_d, days_e, days_f, days_g])
psu = np.concatenate([psu_a, psu_b, psu_c, psu_d, psu_e, psu_f, psu_g])
t = to_time(days)

mono = 'DejaVu Sans Mono'
axis_col = '#262626'

fig = plt.figure(figsize=(16, 9), dpi=250)
ax = fig.add_axes([0.1295, 0.1102, 0.7755, 0.8160])

ax.plot(t, psu, color='#0072BD', linewidth=0.65)

ax.set_xlim(to_time(0), to_time(span_days))
ax.set_ylim(33.5, 37)

ax.set_xticks(to_time(np.linspace(0, span_days, 7)))
ax.set_xticklabels(tick_labels, fontfamily=mono, fontsize=6, color=axis_col)
for lbl in ax.get_xticklabels():
    lbl.set_multialignment('left')
    lbl.set_linespacing(1.45)

ax.set_yticks(y_ticks)
ax.set_yticklabels(y_tick_labels, fontfamily=mono, fontsize=6, color=axis_col)

ax.tick_params(axis='both', direction='in', length=8.9, width=0.5,
               color=axis_col)
ax.tick_params(axis='x', pad=2.7)
ax.tick_params(axis='y', pad=1.5)

for side in ['top', 'right']:
    ax.spines[side].set_visible(False)
for side in ['left', 'bottom']:
    ax.spines[side].set_linewidth(0.6)
    ax.spines[side].set_color(axis_col)

ax.set_title('VI114 SALINITY at depth 1m', fontfamily=mono, fontsize=9,
             fontweight='bold', pad=4.3)
ax.set_ylabel('psu', fontfamily=mono, fontsize=12, color=axis_col)
ax.yaxis.set_label_coords(-0.0205, 0.5)

fig.savefig('out.png', dpi=250)
